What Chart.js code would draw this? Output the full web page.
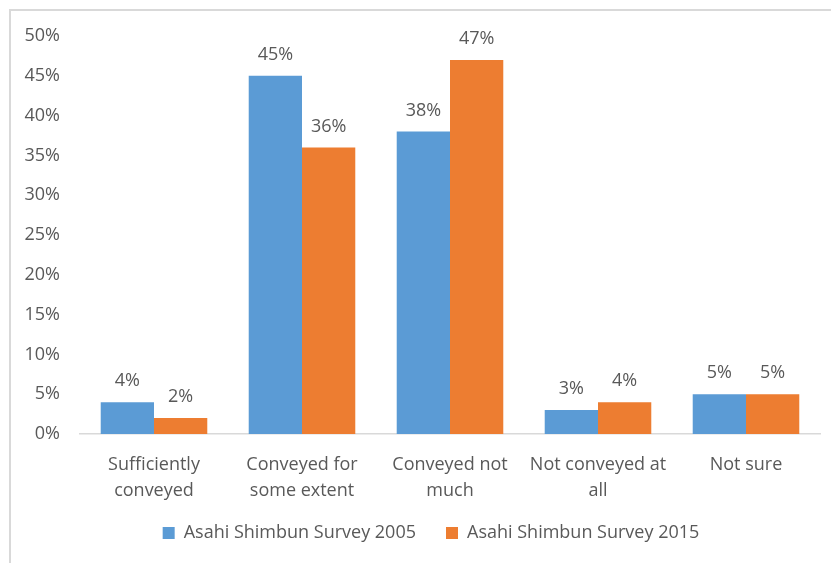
<!DOCTYPE html>
<html>
<head>
<meta charset="utf-8">
<script src="https://cdn.jsdelivr.net/npm/chart.js@4"></script>
<style>
  html, body { margin: 0; padding: 0; background: #fff; }
  #wrap { position: relative; width: 831px; height: 563px; }
  #frame {
    position: absolute; left: 9px; top: 9px; right: 0; bottom: 0;
    border-top: 2px solid #d9d9d9; border-left: 2px solid #d9d9d9;
  }
  canvas { position: absolute; left: 0; top: 0; }
</style>
</head>
<body>
<div id="wrap">
  <div id="frame"></div>
  <canvas id="chart" width="831" height="563"></canvas>
</div>
<script>
const categories = [
  ["Sufficiently", "conveyed"],
  ["Conveyed for", "some extent"],
  ["Conveyed not", "much"],
  ["Not conveyed at", "all"],
  ["Not sure"],
];
const survey2005 = [4, 45, 38, 3, 5];
const survey2015 = [2, 36, 47, 4, 5];
const seriesNames = ["Asahi Shimbun Survey 2005", "Asahi Shimbun Survey 2015"];

const textColor = "#595959";
const fontFamily = "'Open Sans', 'Liberation Sans', sans-serif";

// values above bars
const barLabels = {
  id: "barLabels",
  afterDatasetsDraw(chart) {
    const { ctx } = chart;
    ctx.save();
    ctx.fillStyle = textColor;
    ctx.font = `18px ${fontFamily}`;
    ctx.textAlign = "center";
    ctx.textBaseline = "middle";
    chart.data.datasets.forEach((ds, i) => {
      chart.getDatasetMeta(i).data.forEach((bar, j) => {
        ctx.fillText(`${ds.data[j]}%`, bar.x, bar.y - 21);
      });
    });
    ctx.restore();
  },
};

// legend sits a bit right of centre and tucked up under the labels
const legendShift = {
  id: "legendShift",
  afterLayout(chart) {
    const lg = chart.legend;
    lg.left += 21;
    lg.right += 21;
    lg.top -= 8;
    lg.bottom -= 8;
  },
};

new Chart(document.getElementById("chart"), {
  type: "bar",
  plugins: [barLabels, legendShift],
  data: {
    labels: categories,
    datasets: [
      {
        label: seriesNames[0],
        data: survey2005,
        backgroundColor: "#5b9bd5",
      },
      {
        label: seriesNames[1],
        data: survey2015,
        backgroundColor: "#ed7d31",
      },
    ],
  },
  options: {
    animation: false,
    responsive: false,
    devicePixelRatio: 1,
    layout: {
      padding: { top: 36, right: 11, left: 0, bottom: 3 },
    },
    datasets: {
      bar: { barPercentage: 1, categoryPercentage: 0.72 },
    },
    plugins: {
      legend: {
        position: "bottom",
        labels: {
          color: textColor,
          font: { family: fontFamily, size: 18 },
          boxWidth: 12,
          boxHeight: 12,
          padding: 30,
        },
      },
      tooltip: { enabled: false },
    },
    scales: {
      x: {
        grid: { display: false, drawTicks: false },
        border: { color: "#d9d9d9", width: 1.5 },
        afterFit(scale) { scale.height = 68; },
        ticks: {
          color: textColor,
          font: { family: fontFamily, size: 18, lineHeight: 1.45 },
          padding: 18,
          maxRotation: 0,
        },
      },
      y: {
        min: 0,
        max: 50,
        grid: { display: false, drawTicks: false },
        border: { display: false },
        afterFit(scale) { scale.width = 80; },
        ticks: {
          stepSize: 5,
          color: textColor,
          font: { family: fontFamily, size: 18 },
          padding: 20,
          callback: (v) => `${v}%`,
        },
      },
    },
  },
});
</script>
</body>
</html>
